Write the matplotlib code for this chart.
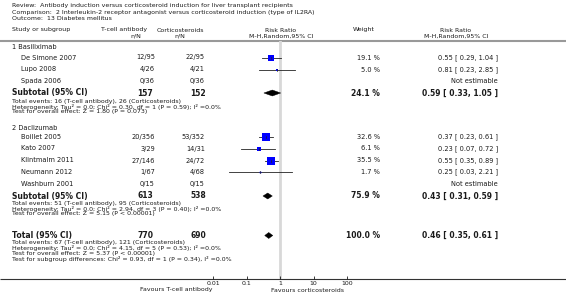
import numpy as np
import matplotlib.pyplot as plt
from matplotlib.patches import Polygon

plt.rcParams["font.family"] = ["DejaVu Sans"]

# ---- data
g1_names = ["De Simone 2007", "Lupo 2008", "Spada 2006"]
g1_tcell = ["12/95", "4/26", "0/36"]
g1_cort = ["22/95", "4/21", "0/36"]
g1_weight = [19.1, 5.0, None]
g1_rr = [0.55, 0.81, None]
g1_lo = [0.29, 0.23, None]
g1_hi = [1.04, 2.85, None]

g2_names = ["Boillet 2005", "Kato 2007", "Klintmalm 2011", "Neumann 2012", "Washburn 2001"]
g2_tcell = ["20/356", "3/29", "27/146", "1/67", "0/15"]
g2_cort = ["53/352", "14/31", "24/72", "4/68", "0/15"]
g2_weight = [32.6, 6.1, 35.5, 1.7, None]
g2_rr = [0.37, 0.23, 0.55, 0.25, None]
g2_lo = [0.23, 0.07, 0.35, 0.03, None]
g2_hi = [0.61, 0.72, 0.89, 2.21, None]

# subtotal 1, subtotal 2, total
sub_n_tcell = [157, 613, 770]
sub_n_cort = [152, 538, 690]
sub_weight = [24.1, 75.9, 100.0]
sub_rr = [0.59, 0.43, 0.46]
sub_lo = [0.33, 0.31, 0.35]
sub_hi = [1.05, 0.59, 0.61]

sub_notes = [
    ["Total events: 16 (T-cell antibody), 26 (Corticosteroids)",
     "Heterogeneity: Tau\u00b2 = 0.0; Chi\u00b2 = 0.30, df = 1 (P = 0.59); I\u00b2 =0.0%",
     "Test for overall effect: Z = 1.80 (P = 0.073)"],
    ["Total events: 51 (T-cell antibody), 95 (Corticosteroids)",
     "Heterogeneity: Tau\u00b2 = 0.0; Chi\u00b2 = 2.94, df = 3 (P = 0.40); I\u00b2 =0.0%",
     "Test for overall effect: Z = 5.15 (P < 0.00001)"],
    ["Total events: 67 (T-cell antibody), 121 (Corticosteroids)",
     "Heterogeneity: Tau\u00b2 = 0.0; Chi\u00b2 = 4.15, df = 5 (P = 0.53); I\u00b2 =0.0%",
     "Test for overall effect: Z = 5.37 (P < 0.00001)",
     "Test for subgroup differences: Chi\u00b2 = 0.93, df = 1 (P = 0.34), I\u00b2 =0.0%"],
]

ticks = [0.01, 0.1, 1, 10, 100]
tick_labels = ["0.01", "0.1", "1", "10", "100"]

W, H = 566, 296
fig = plt.figure(figsize=(W / 100, H / 100), dpi=100)
ax = fig.add_axes([0, 0, 1, 1])
ax.set_xlim(0, W)
ax.set_ylim(H, 0)
ax.axis("off")

TC = "#1a1a1a"
fs_small = 4.5
fs_row = 4.8
fs_bold = 5.5

# forest-plot axes (log scale), pixel rows on y
x0, x1, ytop, ybot = 213, 347, 41, 279
fx = fig.add_axes([x0 / W, (H - ybot) / H, (x1 - x0) / W, (ybot - ytop) / H])
fx.set_xscale("log")
fx.set_xlim(0.01, 100)
fx.set_ylim(ybot, ytop)
fx.patch.set_alpha(0)
for s in fx.spines.values():
    s.set_visible(False)
fx.set_yticks([])
fx.set_xticks(ticks)
fx.set_xticklabels(tick_labels)
fx.minorticks_off()
fx.tick_params(axis="x", direction="in", length=2.5, width=0.6, pad=1.5,
               labelsize=4.5, colors=TC)

# header
ax.text(12, 6, "Review:  Antibody induction versus corticosteroid induction for liver transplant recipients",
        fontsize=fs_small, color=TC, va="center")
ax.text(12, 12.5, "Comparison:  2 Interleukin-2 receptor antagonist versus corticosteroid induction (type of IL2RA)",
        fontsize=fs_small, color=TC, va="center")
ax.text(12, 19, "Outcome:  13 Diabetes mellitus", fontsize=fs_small, color=TC, va="center")

ax.text(12, 30, "Study or subgroup", fontsize=fs_small, color=TC, va="center")
ax.text(124, 30, "T-cell antibody", fontsize=fs_small, color=TC, va="center", ha="center")
ax.text(136, 36, "n/N", fontsize=fs_small, color=TC, va="center", ha="center")
ax.text(180, 30, "Corticosteroids", fontsize=fs_small, color=TC, va="center", ha="center")
ax.text(180, 36, "n/N", fontsize=fs_small, color=TC, va="center", ha="center")
ax.text(281, 30, "Risk Ratio", fontsize=fs_small, color=TC, va="center", ha="center")
ax.text(281, 36, "M-H,Random,95% CI", fontsize=fs_small, color=TC, va="center", ha="center")
ax.text(364, 30, "Weight", fontsize=fs_small, color=TC, va="center", ha="center")
ax.text(456, 30, "Risk Ratio", fontsize=fs_small, color=TC, va="center", ha="center")
ax.text(456, 36, "M-H,Random,95% CI", fontsize=fs_small, color=TC, va="center", ha="center")

ax.plot([0, W], [40.5, 40.5], color="#999999", lw=1.5, solid_capstyle="butt")
ax.plot([0, W], [ybot, ybot], color="#333333", lw=0.8, solid_capstyle="butt")
fx.axvline(1, color="#d8d8d8", lw=2, zorder=0)


def study_rows(names, tcell, cort, weight, rr, lo, hi, ys):
    for i, y in enumerate(ys):
        ax.text(21, y, names[i], fontsize=fs_row, color=TC, va="center")
        ax.text(155, y, tcell[i], fontsize=fs_row, color=TC, va="center", ha="right")
        ax.text(205, y, cort[i], fontsize=fs_row, color=TC, va="center", ha="right")
        if rr[i] is None:
            ax.text(498, y, "Not estimable", fontsize=fs_row, color=TC, va="center", ha="right")
            continue
        ax.text(380, y, f"{weight[i]:.1f} %", fontsize=fs_row, color=TC, va="center", ha="right")
        ax.text(498, y, f"{rr[i]:.2f} [ {lo[i]:.2f}, {hi[i]:.2f} ]",
                fontsize=fs_row, color=TC, va="center", ha="right")
        fx.plot([lo[i], hi[i]], [y, y], color="#222222", lw=0.6, zorder=2)
        side = 1.25 * np.sqrt(weight[i])
        fx.plot([rr[i]], [y], marker="s", ms=side * 0.72, mfc="#0000ff",
                mec="#0000ff", mew=0, zorder=3)
        fx.plot([rr[i], rr[i]], [y - 1, y + 1], color="#222222", lw=0.5, zorder=4)


def subtotal(k, label, y, note_ys):
    ax.text(12, y, label, fontsize=fs_bold, color=TC, va="center", fontweight="bold")
    ax.text(153, y, str(sub_n_tcell[k]), fontsize=fs_bold, color=TC, va="center",
            ha="right", fontweight="bold")
    ax.text(206, y, str(sub_n_cort[k]), fontsize=fs_bold, color=TC, va="center",
            ha="right", fontweight="bold")
    ax.text(380, y, f"{sub_weight[k]:.1f} %", fontsize=fs_bold, color=TC, va="center",
            ha="right", fontweight="bold")
    ax.text(498, y, f"{sub_rr[k]:.2f} [ {sub_lo[k]:.2f}, {sub_hi[k]:.2f} ]", fontsize=fs_bold,
            color=TC, va="center", ha="right", fontweight="bold")
    d = Polygon([(sub_lo[k], y), (sub_rr[k], y - 3), (sub_hi[k], y), (sub_rr[k], y + 3)],
                closed=True, facecolor="black", edgecolor="black", lw=0.3, zorder=3)
    fx.add_patch(d)
    for txt, ny in zip(sub_notes[k], note_ys):
        ax.text(12, ny, txt, fontsize=fs_small, color=TC, va="center")


ax.text(12, 47, "1 Basiliximab", fontsize=fs_row, color=TC, va="center")
study_rows(g1_names, g1_tcell, g1_cort, g1_weight, g1_rr, g1_lo, g1_hi, [57.5, 69.5, 81])
subtotal(0, "Subtotal (95% CI)", 93, [101, 106.5, 112])

ax.text(12, 128, "2 Daclizumab", fontsize=fs_row, color=TC, va="center")
study_rows(g2_names, g2_tcell, g2_cort, g2_weight, g2_rr, g2_lo, g2_hi,
           [137, 148.5, 160.5, 172, 184])
subtotal(1, "Subtotal (95% CI)", 196, [203, 208.5, 214])

subtotal(2, "Total (95% CI)", 235.5, [242.5, 248, 253.5, 259])

ax.text(213, 290, "Favours T-cell antibody", fontsize=fs_small, color=TC, va="center", ha="right")
ax.text(271, 290, "Favours corticosteroids", fontsize=fs_small, color=TC, va="center", ha="left")

fig.savefig("out.png", dpi=100)
